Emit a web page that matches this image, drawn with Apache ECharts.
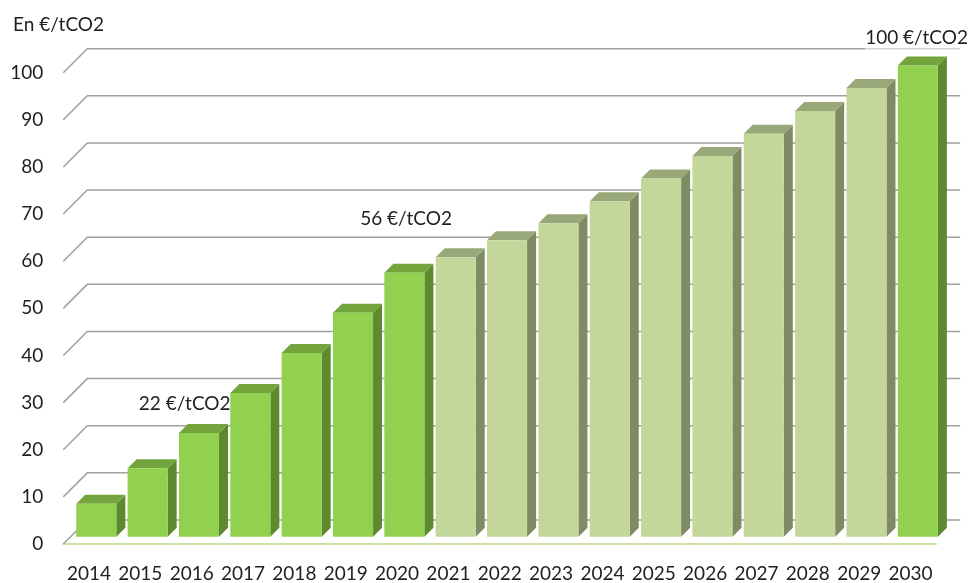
<!DOCTYPE html>
<html>
<head>
<meta charset="utf-8">
<script src="https://cdn.jsdelivr.net/npm/echarts@6/dist/echarts.min.js"></script>
<style>
  html, body { margin: 0; padding: 0; background: #ffffff; }
  #chart { width: 976px; height: 583px; }
</style>
</head>
<body>
<div id="chart"></div>
<script>
// Carbon price trajectory, €/tCO2
const years = ['2014', '2015', '2016', '2017', '2018', '2019', '2020', '2021', '2022',
               '2023', '2024', '2025', '2026', '2027', '2028', '2029', '2030'];
const prices = [7, 14.5, 22, 30.5, 39, 47.5, 56, 59.3, 62.9, 66.5, 71.2, 76, 80.8, 85.5, 90.3, 95.2, 100];
// Years drawn in the strong green (voted steps and the 2030 target)
const keyYears = ['2014', '2015', '2016', '2017', '2018', '2019', '2020', '2030'];
// Years whose value is written above the bar
const labelledYears = ['2016', '2020', '2030'];
const gridValues = [0, 10, 20, 30, 40, 50, 60, 70, 80, 90, 100];
const unit = '€/tCO2';

// Pseudo-3D geometry (pixels)
const WALL_DEPTH = 24;   // distance from the front plane to the back wall
const BAR_OFFSET = 7.3;  // where the bar front face sits in depth
const BAR_DEPTH = 9;     // thickness of the bar
const BAR_RATIO = 0.78;  // bar width as a share of the category band

const palette = {
  key:   { front: '#92d050', top: '#74a53c', side: '#5e8a2f' },
  other: { front: '#c4d79b', top: '#98a878', side: '#7e8b63' }
};
// Label placement relative to the bar's front top edge
const labelLayout = {
  '2016': { dx: -7, dy: -29 },
  '2020': { dx: 9, dy: -54 },
  '2030': { dx: 6, dy: -27.5, bg: 'rgba(255,255,255,0.55)' }
};

const FONT = 'Lato, "Liberation Sans", sans-serif';
const FONT_SIZE = 19;
const chart = echarts.init(document.getElementById('chart'));

function renderGridLine(params, api) {
  const cs = params.coordSys;
  const v = api.value(1);
  const y = api.coord([0, v])[1];
  return {
    type: 'polyline',
    silent: true,
    shape: { points: [[cs.x, y], [cs.x + WALL_DEPTH, y - WALL_DEPTH], [cs.x + cs.width + WALL_DEPTH, y - WALL_DEPTH]] },
    style: { stroke: '#a0a0a0', lineWidth: 1.5, fill: null }
  };
}

function renderBar(params, api) {
  const idx = api.value(0);
  const v = api.value(1);
  const year = years[idx];
  const base = api.coord([idx, 0]);
  const top = api.coord([idx, v]);
  const band = api.size([1, 0])[0];
  const w = band * BAR_RATIO;
  const x0 = base[0] - w / 2 + BAR_OFFSET;
  const x1 = x0 + w;
  const yb = base[1] - BAR_OFFSET;
  const yt = top[1] - BAR_OFFSET;
  const d = BAR_DEPTH;
  const c = keyYears.includes(year) ? palette.key : palette.other;
  const children = [
    { type: 'polygon', shape: { points: [[x1, yt], [x1 + d, yt - d], [x1 + d, yb - d], [x1, yb]] },
      style: { fill: c.side } },
    { type: 'polygon', shape: { points: [[x0, yt], [x1, yt], [x1 + d, yt - d], [x0 + d, yt - d]] },
      style: { fill: c.top } },
    { type: 'rect', shape: { x: x0, y: yt, width: w, height: yb - yt },
      style: { fill: c.front } }
  ];
  if (labelledYears.includes(year)) {
    const lay = labelLayout[year];
    const style = {
      text: v + ' ' + unit,
      x: base[0] + lay.dx,
      y: yt + lay.dy,
      fill: '#1f1f1f',
      font: FONT_SIZE + 'px ' + FONT,
      align: 'center',
      verticalAlign: 'middle'
    };
    if (lay.bg) {
      style.backgroundColor = lay.bg;
      style.padding = [2, 0, 8, 0];
    }
    children.push({ type: 'text', style: style, z2: 10 });
  }
  return { type: 'group', children: children };
}

chart.setOption({
  animation: false,
  backgroundColor: '#ffffff',
  graphic: [{
    type: 'text', left: 13, top: 15,
    style: { text: 'En ' + unit, font: FONT_SIZE + 'px ' + FONT, fill: '#1f1f1f' }
  }],
  grid: { left: 63.3, right: 39.8, top: 72.7, bottom: 37.5 },
  xAxis: {
    type: 'category',
    data: years,
    axisLine: { show: true, lineStyle: { color: '#b9d98a', width: 1.6 } },
    axisTick: { show: false },
    axisLabel: { margin: 20, fontSize: FONT_SIZE, fontFamily: FONT, color: '#1f1f1f', interval: 0 },
    splitLine: { show: false }
  },
  yAxis: {
    type: 'value',
    min: 0, max: 100, interval: 10,
    axisLine: { show: false },
    axisTick: { show: false },
    splitLine: { show: false },
    axisLabel: { margin: 20, fontSize: FONT_SIZE, fontFamily: FONT, color: '#1f1f1f', padding: [4, 0, 0, 0] }
  },
  series: [
    {
      type: 'custom',
      name: 'grid',
      renderItem: renderGridLine,
      data: gridValues.map(v => [0, v]),
      encode: { x: 0, y: 1 },
      clip: false,
      silent: true,
      z: 1
    },
    {
      type: 'custom',
      name: 'prix',
      renderItem: renderBar,
      data: prices.map((v, i) => [i, v]),
      encode: { x: 0, y: 1 },
      clip: false,
      z: 2
    }
  ]
});
</script>
</body>
</html>
